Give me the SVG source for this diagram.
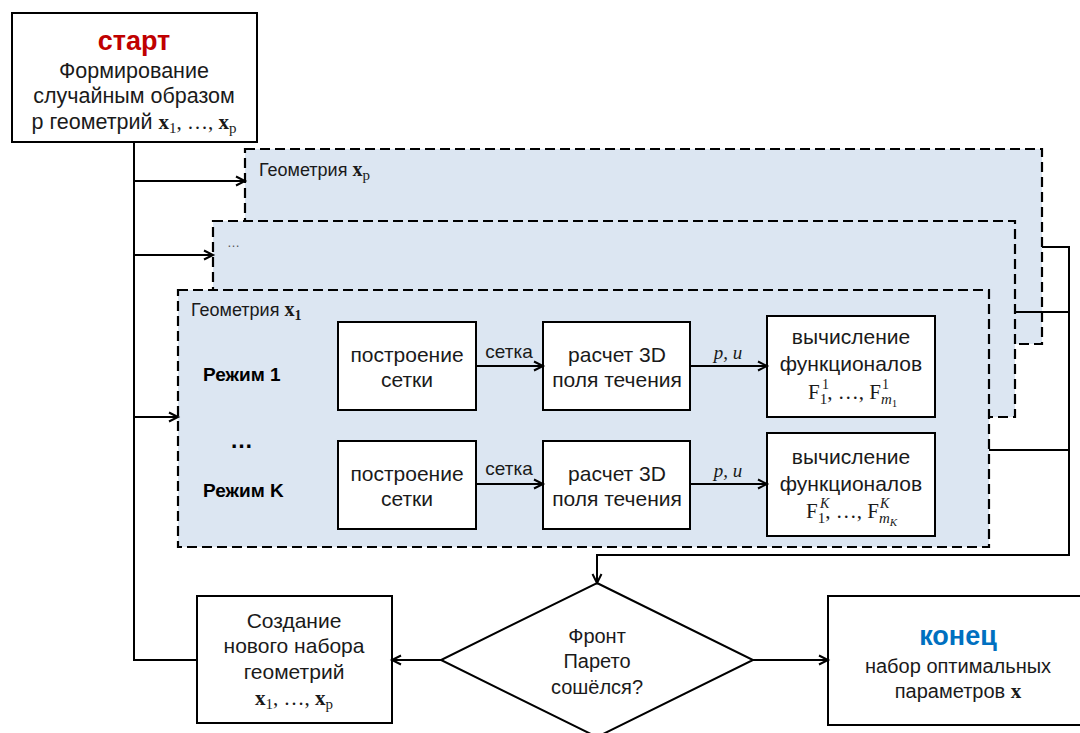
<svg xmlns="http://www.w3.org/2000/svg" width="1080" height="733" viewBox="0 0 1080 733">
<defs>
<marker id="arr" markerUnits="userSpaceOnUse" markerWidth="14" markerHeight="14" refX="11" refY="6" orient="auto">
<path d="M2,1.5 L11,6 L2,10.5" fill="none" stroke="#000" stroke-width="2"/>
</marker>
<style>
.box{fill:#fff;stroke:#000;stroke-width:2}
.grp{fill:#dce6f2;stroke:#000;stroke-width:2.2;stroke-dasharray:10 5}
.t{font-family:"Liberation Sans",Arial,sans-serif;font-size:21px;fill:#1a1a1a;text-anchor:middle}
.lbl{font-family:"Liberation Sans",Arial,sans-serif;font-size:18px;fill:#1a1a1a}
.b{font-family:"Liberation Sans",Arial,sans-serif;font-size:19px;font-weight:bold;fill:#000}
.m{font-family:"Liberation Serif","Times New Roman",serif;font-size:21px;fill:#1a1a1a}
.mx{font-weight:bold}
.sc{font-size:15px}
.ss{font-family:"Liberation Serif","Times New Roman",serif;font-size:14px;fill:#1a1a1a}
.ssc{font-size:11px}
.it{font-style:italic}
.con{fill:none;stroke:#000;stroke-width:2}
</style>
</defs>
<g id="geom-p">
<rect class="grp" x="245" y="149" width="797" height="195"/>
<text class="lbl" x="259" y="176">Геометрия <tspan class="m mx" style="font-size:20px">x</tspan><tspan class="m sc" dy="4">p</tspan></text>
</g>
<g id="geom-dots">
<rect class="grp" x="213" y="221" width="802" height="196"/>
<text class="lbl" x="227" y="247" style="font-size:13px;fill:#555">…</text>
</g>
<g id="geom-1">
<rect class="grp" x="178" y="290" width="811" height="257"/>
<text class="lbl" x="191" y="316">Геометрия <tspan class="m mx" style="font-size:20px">x</tspan><tspan class="m sc mx" dy="4" style="font-size:14px">1</tspan></text>
<text class="b" x="203" y="381">Режим 1</text>
<text class="b" x="230" y="448" style="font-size:23px">…</text>
<text class="b" x="203" y="497">Режим K</text>
</g>
<g id="mesh-1">
<rect class="box" x="338" y="322" width="138" height="88"/>
<text class="t" x="407" y="362">построение</text>
<text class="t" x="407" y="387">сетки</text>
</g>
<g id="flow-1">
<rect class="box" x="543" y="322" width="147" height="88"/>
<text class="t" x="617" y="362">расчет 3D</text>
<text class="t" x="617" y="387">поля течения</text>
</g>
<g id="func-1">
<rect class="box" x="767" y="316" width="168" height="101"/>
<text class="t" x="851" y="344">вычисление</text>
<text class="t" x="851" y="371">функционалов</text>
<text class="m" x="808" y="399">F<tspan class="sc" dy="5">1</tspan><tspan dy="-5">, …, F</tspan><tspan class="sc it" dy="5">m</tspan><tspan class="ssc" dy="3">1</tspan></text>
<text class="ss" x="822" y="389">1</text>
<text class="ss" x="882" y="389">1</text>
</g>
<g id="mesh-k">
<rect class="box" x="338" y="441" width="138" height="88"/>
<text class="t" x="407" y="481">построение</text>
<text class="t" x="407" y="506">сетки</text>
</g>
<g id="flow-k">
<rect class="box" x="543" y="441" width="147" height="88"/>
<text class="t" x="617" y="481">расчет 3D</text>
<text class="t" x="617" y="506">поля течения</text>
</g>
<g id="func-k">
<rect class="box" x="767" y="433" width="168" height="103"/>
<text class="t" x="851" y="464">вычисление</text>
<text class="t" x="851" y="491">функционалов</text>
<text class="m" x="806" y="518">F<tspan class="sc" dy="5">1</tspan><tspan dy="-5">, …, F</tspan><tspan class="sc it" dy="5">m</tspan><tspan class="ssc it" dy="3">K</tspan></text>
<text class="ss it" x="820" y="508">K</text>
<text class="ss it" x="880" y="508">K</text>
</g>
<g id="start">
<rect class="box" x="12" y="13" width="245" height="129"/>
<text class="t" x="134" y="50" style="font-size:27px;font-weight:bold;fill:#c00000">старт</text>
<text class="t" x="134" y="78" style="font-size:21.5px">Формирование</text>
<text class="t" x="134" y="103" style="font-size:21.5px">случайным образом</text>
<text class="t" x="134" y="129" style="font-size:21.5px">p геометрий <tspan class="m mx">x</tspan><tspan class="m sc" dy="4">1</tspan><tspan class="m" dy="-4">, …, </tspan><tspan class="m mx">x</tspan><tspan class="m sc" dy="4">p</tspan></text>
</g>
<g id="create">
<rect class="box" x="197" y="596" width="195" height="127"/>
<text class="t" x="294" y="628">Создание</text>
<text class="t" x="294" y="653">нового набора</text>
<text class="t" x="294" y="679">геометрий</text>
<text class="t" x="294" y="705"><tspan class="m mx">x</tspan><tspan class="m sc" dy="4">1</tspan><tspan class="m" dy="-4">, …, </tspan><tspan class="m mx">x</tspan><tspan class="m sc" dy="4">p</tspan></text>
</g>
<g id="decision">
<polygon class="box" points="597,583 753,660 597,737 441,660"/>
<text class="t" x="597" y="643" style="font-size:20px">Фронт</text>
<text class="t" x="597" y="668" style="font-size:20px">Парето</text>
<text class="t" x="597" y="694" style="font-size:20px">сошёлся?</text>
</g>
<g id="end">
<rect class="box" x="828" y="596" width="262" height="129"/>
<text class="t" x="958" y="645" style="font-size:27px;font-weight:bold;fill:#0070c0">конец</text>
<text class="t" x="958" y="673" style="font-size:20px">набор оптимальных</text>
<text class="t" x="958" y="698" style="font-size:20px">параметров <tspan class="m mx">x</tspan></text>
</g>
<g id="connectors">
<polyline class="con" points="134,142 134,660 197,660"/>
<line class="con" x1="134" y1="181" x2="245" y2="181" marker-end="url(#arr)"/>
<line class="con" x1="134" y1="255" x2="213" y2="255" marker-end="url(#arr)"/>
<line class="con" x1="134" y1="417" x2="178" y2="417" marker-end="url(#arr)"/>
<line class="con" x1="476" y1="366" x2="543" y2="366" marker-end="url(#arr)"/>
<line class="con" x1="690" y1="366" x2="767" y2="366" marker-end="url(#arr)"/>
<line class="con" x1="476" y1="484" x2="543" y2="484" marker-end="url(#arr)"/>
<line class="con" x1="690" y1="484" x2="767" y2="484" marker-end="url(#arr)"/>
<polyline class="con" points="1042,247 1069,247 1069,555 597,555 597,583" marker-end="url(#arr)"/>
<line class="con" x1="1015" y1="312" x2="1069" y2="312"/>
<line class="con" x1="989" y1="450" x2="1069" y2="450"/>
<line class="con" x1="441" y1="660" x2="392" y2="660" marker-end="url(#arr)"/>
<line class="con" x1="753" y1="660" x2="828" y2="660" marker-end="url(#arr)"/>
<text class="lbl" x="509" y="358" text-anchor="middle" style="font-size:19px">сетка</text>
<text class="lbl" x="509" y="475" text-anchor="middle" style="font-size:19px">сетка</text>
<text class="m it" x="728" y="359" text-anchor="middle" style="font-size:19px">p, u</text>
<text class="m it" x="728" y="477" text-anchor="middle" style="font-size:19px">p, u</text>
</g>
</svg>
